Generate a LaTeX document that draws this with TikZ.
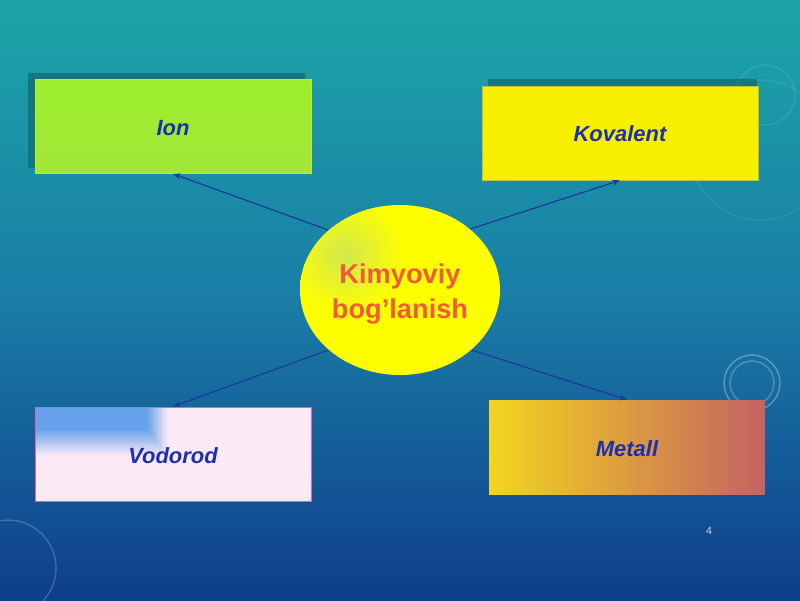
\documentclass[tikz,border=0pt]{standalone}
\usepackage{fontspec}
\setmainfont{Liberation Sans}
\usetikzlibrary{shapes.geometric,arrows.meta}
\definecolor{bgtop}{HTML}{1BA5A7}
\definecolor{bgmid}{HTML}{1A7DA6}
\definecolor{bgbot}{HTML}{0E3E8C}
\definecolor{labelblue}{HTML}{1C2FB0}
\definecolor{linkblue}{HTML}{1B3C9C}
\definecolor{ellred}{HTML}{F25A3C}
\definecolor{ellyel}{HTML}{FFFF00}
\definecolor{ellgrn}{HTML}{D2E84C}
\definecolor{limea}{HTML}{9CF02C}
\definecolor{limeb}{HTML}{A2E638}
\definecolor{kyel}{HTML}{F6F000}
\definecolor{vpink}{HTML}{FCE9F6}
\definecolor{vblue}{HTML}{5C9CEA}
\definecolor{myel}{HTML}{F2D51E}
\definecolor{mred}{HTML}{C56262}
\definecolor{shadowc}{HTML}{12767E}
\begin{document}
\begin{tikzpicture}[x=0.02cm,y=-0.02cm,
  lbl/.style={font=\fontsize{12.5}{15}\selectfont\bfseries\itshape, text=labelblue},
  box/.style={rectangle, minimum width=5.52cm, minimum height=1.88cm, inner sep=0pt, lbl},
  arr/.style={draw=linkblue, line width=0.7pt, -{Stealth[length=4.5pt,width=3.5pt]}},
  deco/.style={draw=white, line width=0.8pt}]
\useasboundingbox (0,0) rectangle (800,600);
% background
\shade[top color=bgtop, bottom color=bgmid, middle color=bgmid!50!bgtop] (0,0) rectangle (800,300);
\shade[top color=bgmid, bottom color=bgbot] (0,300) rectangle (800,600);
% faint decorative circles
\draw[deco, opacity=0.3] (752,383) circle (28);
\draw[deco, opacity=0.25] (752,383) circle (22);
\draw[deco, opacity=0.2] (8,568) circle (48);
\draw[deco, opacity=0.1] (765,95) circle (30);
\draw[deco, opacity=0.08] (760,150) circle (70);
% shadows
\fill[shadowc] (28,73) rectangle (305,168);
\fill[shadowc!80!black, opacity=0.6] (488,79) rectangle (757,175);
% nodes
\node[ellipse, minimum width=4cm, minimum height=3.4cm, inner sep=0pt] (ellA) at (400,290) {};
\node[box, top color=limea, bottom color=limeb, draw=limeb!70!yellow, line width=0.4pt] (ion) at (173,126.5) {};
\node[lbl] (ionT) at (173,128) {Ion};
\node[box, fill=kyel, draw=kyel!80!blue, line width=0.4pt] (kov) at (620,133) {};
\node[lbl] (kovT) at (620,133.5) {Kovalent};
\node[box, fill=vpink, draw=magenta!60!vpink, line width=0.5pt,
  path picture={
    \foreach \k in {0,...,15}{
      \pgfmathsetmacro{\pc}{6.25*\k}
      \pgfmathsetmacro{\wd}{134-1.4*\k}
      \pgfmathsetmacro{\ht}{50-1.8*\k}
      \fill[vblue!\pc!vpink] (path picture bounding box.north west) rectangle ++(\wd,\ht);
    }}] (vod) at (173,454) {};
\node[lbl] (vodT) at (173,456) {Vodorod};
\node[box, left color=myel, right color=mred] (met) at (627,447) {};
\node[lbl] (metT) at (627,449) {Metall};
% connectors
\draw[arr] (ellA.140) -- (ion.south);
\draw[arr] (ellA.41) -- (kov.south);
\draw[arr] (ellA.220) -- (vod.north);
\draw[arr] (ellA.320) -- (met.north);
% ellipse
\fill[ellyel] (ellA.center) ellipse (100 and 85);
\begin{scope}
\clip (ellA.center) ellipse (100 and 85);
\shade[inner color=ellgrn, outer color=ellyel] (345,255) circle (60);
\end{scope}
\node[align=center, font=\fontsize{15.5}{19.5}\selectfont\bfseries, text=ellred] (ellT) at (400,294) {Kimyoviy\\bog'lanish};
\node[font=\fontsize{6}{7}\selectfont, text=white!80!bgbot] (pnum) at (709,531) {4};
\end{tikzpicture}
\end{document}
